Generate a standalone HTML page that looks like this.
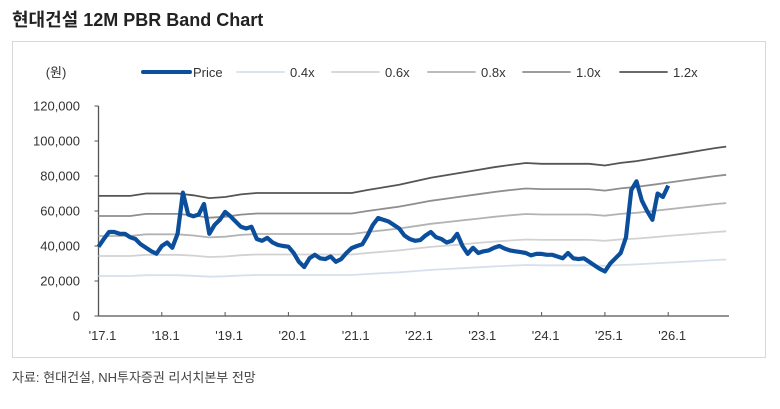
<!DOCTYPE html>
<html><head><meta charset="utf-8"><style>
body{margin:0;background:#fff;width:780px;height:404px;overflow:hidden;font-family:"Liberation Sans","Noto Sans CJK KR",sans-serif}
</style></head><body>
<svg width="780" height="404" viewBox="0 0 780 404" xmlns="http://www.w3.org/2000/svg">
<text x="12" y="26" font-size="18" font-weight="bold" fill="#222" font-family="Liberation Sans, Noto Sans CJK KR, sans-serif">현대건설  12M PBR Band Chart</text>
<rect x="12.5" y="41.5" width="753" height="316" fill="none" stroke="#d8d8d8"/>
<text x="56" y="77" font-size="13" fill="#333" text-anchor="middle" font-family="Liberation Sans, Noto Sans CJK KR, sans-serif">(원)</text>
<g id="legend"></g>
<g id="axes"></g>
<g id="bands"></g>
<g id="price"></g>
<text x="12" y="382" font-size="13" fill="#444" font-family="Liberation Sans, Noto Sans CJK KR, sans-serif">자료: 현대건설, NH투자증권 리서치본부 전망</text>
</svg>
<script>
const yTicks=[0,20000,40000,60000,80000,100000,120000];
const xLabels=["'17.1","'18.1","'19.1","'20.1","'21.1","'22.1","'23.1","'24.1","'25.1","'26.1"];
const price=[39.6,44,48,48,47,47,45,44,41,39,37,35.6,40,42,39,47,70.5,58,57,58,64,47,52,55,59.5,57,54,51,50,51,44,43,44.6,42,40.6,40,39.6,36,31,28,33,35,33,32.5,34,31,32.5,36,38.8,40,41,46,52,56,55,54,52,50,46,44,43,43.4,46,48,45,44,42,43,47,40,35.5,39,36,37,37.5,39,40,38.5,37.5,37,36.5,36,34.6,35.5,35.5,35,35,34,33,36,33,32.5,33,31,29,27,25.5,30,33,36,45,72,77,66,60,55,70,68,74.5].map(v=>v*1000);
const bandMonths=[0,3,6,9,12,15,18,21,24,27,30,33,36,39,42,45,48,51,54,57,60,63,66,69,72,75,78,81,84,87,90,93,96,99,102,105,108,111,114,117,119];
const bps12=[68.6,68.6,68.6,70,70,70,69,67.4,68,69.5,70.3,70.3,70.3,70.3,70.3,70.3,70.3,72,73.5,75,77,79,80.5,82,83.5,85,86.3,87.4,87,87,87,87,86,87.5,88.5,90,91.5,93,94.5,96,96.8].map(v=>v*1000/1.2);
const multiples=[0.4,0.6,0.8,1.0,1.2];
const bandLabels=["0.4x","0.6x","0.8x","1.0x","1.2x"];
const bandColors=["#d6e0ec","#d2d2d2","#b3b3b3","#8e8e8e","#555555"];

const NS="http://www.w3.org/2000/svg";
const X0=98.5,MW=63.3/12,Y0=316,YS=210/120000;
const xs=m=>X0+m*MW, ys=v=>Y0-v*YS;
function mk(t,a,p){const e=document.createElementNS(NS,t);for(const k in a)e.setAttribute(k,a[k]);p.appendChild(e);return e;}
const ax=document.getElementById('axes');
const yl=mk('line',{x1:X0,y1:ys(120000),x2:X0,y2:Y0,stroke:'#555','stroke-width':1.3},ax);


const xl=mk('line',{x1:X0,y1:Y0,x2:729,y2:Y0,stroke:'#555','stroke-width':1.3},ax);


yTicks.forEach(v=>{
  mk('line',{x1:X0-4,y1:ys(v),x2:X0,y2:ys(v),stroke:'#555'},ax);
  const t=mk('text',{x:80,y:ys(v)+4.5,'font-size':13,fill:'#333','text-anchor':'end'},ax);
  t.textContent=v.toLocaleString('en-US');
  
  
});
xLabels.forEach((l,i)=>{
  const x=xs(i*12);
  mk('line',{x1:x,y1:Y0-4,x2:x,y2:Y0,stroke:'#555'},ax);
  const t=mk('text',{x:x+4,y:340,'font-size':13,fill:'#333','text-anchor':'middle'},ax);
  t.textContent=l;
  
  
});
const bg=document.getElementById('bands');
multiples.forEach((m,k)=>{
  const d=bandMonths.map((mo,i)=>(i?'L':'M')+xs(mo).toFixed(1)+' '+ys(bps12[i]*m).toFixed(1)).join(' ');
  const p=mk('path',{d:d,fill:'none',stroke:bandColors[k],'stroke-width':1.8},bg);
  
  
});
const pg=document.getElementById('price');
const pd=price.map((v,i)=>(i?'L':'M')+xs(i).toFixed(1)+' '+ys(v).toFixed(1)).join(' ');
const pp=mk('path',{d:pd,fill:'none',stroke:'#0b4f9c','stroke-width':4.2,'stroke-linejoin':'round'},pg);


const lg=document.getElementById('legend');
const legItems=[["Price","#0b4f9c",4,143],["0.4x",bandColors[0],1.8,237],["0.6x",bandColors[1],1.8,332],["0.8x",bandColors[2],1.8,428],["1.0x",bandColors[3],1.8,523],["1.2x",bandColors[4],1.8,620]];
legItems.forEach(([l,c,w,x])=>{
  const g=mk('g',{},lg);
  
  
  mk('line',{x1:x,y1:72,x2:x+47,y2:72,stroke:c,'stroke-width':w,'stroke-linecap':'round'},g);
  const t=mk('text',{x:x+(l==='Price'?50:53),y:77,'font-size':13,fill:'#333'},g);
  t.textContent=l;
});
</script>
</body></html>
